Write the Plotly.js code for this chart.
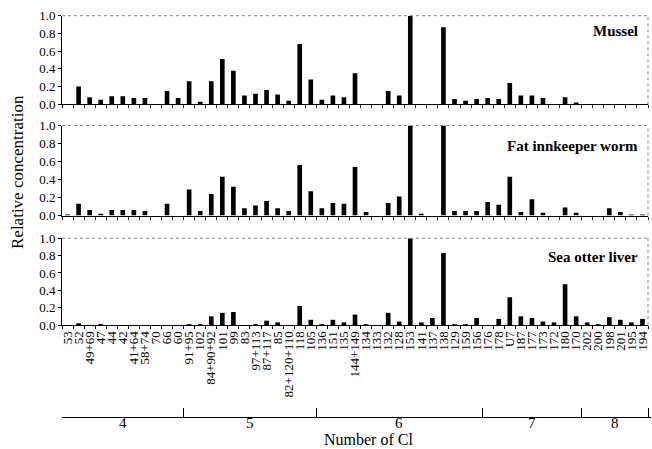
<!DOCTYPE html>
<html>
<head>
<meta charset="utf-8">
<script src="https://cdn.plot.ly/plotly-3.0.1.min.js"></script>
<style>html,body{margin:0;padding:0;background:#fff;}#chart{width:652px;height:449px;}</style>
</head>
<body>
<div id="chart"></div>
<script>
const categories = ['53','52','49+69','47','44','42','41+64','58+74','70','66','60',
  '91+95','102','84+90+92','101','99','83','97+113','87+117','85','82+120+110','118','105',
  '136','151','135','144+149','134','133','132','128','153','141','137','138','129','159','156',
  '176','178','U7','187','177','173','172','180','170',
  '202','200','198','201','195','194'];
const groupLabels = ['4','5','6','7','8'];
const groupSizes = [11, 12, 15, 9, 6];
const panelNames = ['Mussel', 'Fat innkeeper worm', 'Sea otter liver'];
const mussel = [0,0.20,0.08,0.05,0.09,0.09,0.07,0.07,0,0.15,0.07,
  0.26,0.03,0.26,0.51,0.38,0.10,0.12,0.16,0.11,0.04,0.68,0.28,
  0.05,0.10,0.08,0.35,0,0,0.15,0.10,1.0,0,0,0.87,0.06,0.04,0.06,
  0.07,0.06,0.24,0.10,0.10,0.07,0,0.08,0.02,
  0,0,0,0,0,0];
const worm = [0.01,0.13,0.06,0.02,0.06,0.06,0.06,0.05,0,0.13,0,
  0.29,0.05,0.24,0.43,0.32,0.08,0.11,0.16,0.08,0.05,0.56,0.27,
  0.08,0.14,0.13,0.54,0.04,0,0.14,0.21,1.0,0.02,0,1.0,0.05,0.05,0.05,
  0.15,0.12,0.43,0.04,0.18,0.03,0,0.09,0.03,
  0,0,0.08,0.04,0.01,0.01];
const otter = [0,0.02,0,0.01,0,0,0,0,0,0,0,
  0.01,0.01,0.10,0.14,0.15,0,0.01,0.05,0.03,0,0.22,0.06,
  0.01,0.06,0.03,0.12,0.01,0,0.14,0.04,1.0,0.03,0.08,0.83,0.01,0.01,0.08,
  0,0.07,0.32,0.10,0.08,0.04,0.03,0.47,0.10,
  0.03,0.01,0.09,0.06,0.03,0.07];
const yTicks = [0, 0.2, 0.4, 0.6, 0.8, 1.0];

const W = 652, H = 449;
const serif = 'Liberation Serif, Times New Roman, serif';
const xDom = [62 / W, 648 / W];
// panel pixel extents (top, bottom)
const panelPx = [[15.7, 104.3], [125.5, 215.5], [238.3, 325.0]];
const yDoms = panelPx.map(p => [1 - p[1] / H, 1 - p[0] / H]);
const series = [mussel, worm, otter];

const traces = series.map((vals, i) => ({
  type: 'bar', x: categories, y: vals,
  xaxis: i === 0 ? 'x' : 'x' + (i + 1),
  yaxis: i === 0 ? 'y' : 'y' + (i + 1),
  marker: {color: '#000', line: {width: 0}},
  hoverinfo: 'x+y', showlegend: false
}));

const layout = {
  width: W, height: H,
  margin: {l: 0, r: 0, t: 0, b: 0},
  paper_bgcolor: '#fff', plot_bgcolor: '#fff',
  bargap: 0.58,
  font: {family: serif, color: '#000', size: 13},
  shapes: [], annotations: []
};

for (let i = 0; i < 3; i++) {
  const xs = i === 0 ? '' : String(i + 1);
  layout['xaxis' + xs] = {
    domain: xDom, anchor: 'y' + xs, type: 'category',
    range: [-0.5, categories.length - 0.5],
    showline: true, linecolor: '#000', linewidth: 1,
    ticks: 'outside', ticklen: 3, tickcolor: '#000', tickson: 'boundaries',
    tickmode: 'array', tickvals: categories,
    showticklabels: i === 2, tickangle: -90,
    tickfont: {family: serif, size: 13, color: '#000'},
    showgrid: false, zeroline: false, fixedrange: true
  };
  layout['yaxis' + xs] = {
    domain: yDoms[i], anchor: 'x' + xs,
    range: [0, 1.0],
    tickmode: 'array', tickvals: yTicks, tickformat: '.1f',
    showline: true, linecolor: '#000', linewidth: 1,
    ticks: 'outside', ticklen: 3, tickcolor: '#000',
    tickfont: {family: serif, size: 13, color: '#000'},
    showgrid: false, zeroline: false, fixedrange: true
  };
  // dotted top and right frame
  layout.shapes.push({type: 'line', xref: 'x' + xs + ' domain', yref: 'y' + xs + ' domain',
    x0: 0, x1: 1, y0: 1, y1: 1, line: {color: '#8a8a8a', width: 1, dash: 'dot'}});
  layout.shapes.push({type: 'line', xref: 'x' + xs + ' domain', yref: 'y' + xs + ' domain',
    x0: 1, x1: 1, y0: 0, y1: 1, line: {color: '#8a8a8a', width: 1, dash: 'dot'}});
  layout.annotations.push({
    xref: 'x' + xs + ' domain', yref: 'y' + xs + ' domain',
    x: (640 / W - xDom[0]) / (xDom[1] - xDom[0]),
    y: [0.83, 0.77, 0.79][i],
    xanchor: 'right', yanchor: 'middle', showarrow: false,
    text: panelNames[i],
    font: {family: serif, size: 15, color: '#000', weight: 'bold'}
  });
}

// group (Number of Cl) axis
const bounds = [-0.5];
groupSizes.forEach(s => bounds.push(bounds[bounds.length - 1] + s));
layout.yaxis4 = {domain: [1 - 417 / H, 1 - 400 / H], anchor: 'x4', visible: false, range: [0, 1], fixedrange: true};
layout.xaxis4 = {
  domain: [xDom[0], 651 / W], anchor: 'y4', type: 'linear',
  range: [-0.5, categories.length - 0.5 + 3 / 11.06],
  showline: true, linecolor: '#000', linewidth: 1,
  ticks: 'inside', ticklen: 9, tickcolor: '#000',
  tickmode: 'array', tickvals: bounds, showticklabels: false,
  showgrid: false, zeroline: false, fixedrange: true
};
groupLabels.forEach((g, j) => {
  layout.annotations.push({
    xref: 'x4', yref: 'paper', x: (bounds[j] + bounds[j + 1]) / 2, y: 1 - 423 / H,
    xanchor: 'center', yanchor: 'middle', showarrow: false, text: g,
    font: {family: serif, size: 15, color: '#000'}, borderpad: 0
  });
});
layout.annotations.push({
  xref: 'paper', yref: 'paper', x: 368 / W, y: 0,
  xanchor: 'center', yanchor: 'bottom', showarrow: false, text: 'Number of Cl',
  font: {family: serif, size: 16, color: '#000'}, borderpad: 0
});
layout.annotations.push({
  xref: 'paper', yref: 'paper', x: 17 / W, y: 1 - 172 / H,
  xanchor: 'center', yanchor: 'middle', showarrow: false, textangle: -90,
  text: 'Relative concentration',
  font: {family: serif, size: 17, color: '#000'}
});

Plotly.newPlot('chart', traces, layout, {displayModeBar: false, staticPlot: true});
</script>
</body>
</html>
